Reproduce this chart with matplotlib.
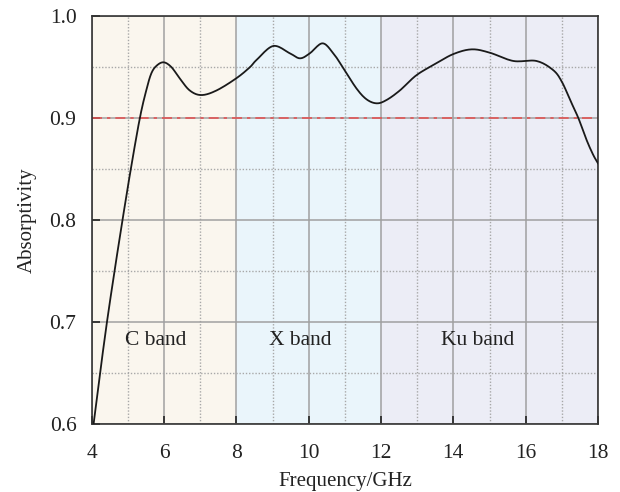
import matplotlib
matplotlib.use("Agg")
import matplotlib.pyplot as plt
import numpy as np
from matplotlib.ticker import MultipleLocator

plt.rcParams['font.family'] = ['Liberation Serif', 'DejaVu Serif']

# absorptivity curve
freq = [4.05, 4.23, 4.42, 4.63, 4.85, 5.08, 5.33, 5.51, 5.65, 5.80, 5.99, 6.20,
        6.43, 6.71, 7.03, 7.45, 8.00, 8.37, 8.56, 9.02, 9.48, 9.76, 10.03, 10.38,
        10.68, 10.96, 11.32, 11.60, 11.88, 12.15, 12.52, 12.98, 13.50, 14.00,
        14.51, 15.01, 15.66, 16.30, 16.76, 17.00, 17.23, 17.46, 17.69, 17.87, 18.00]
absorb = [0.600, 0.650, 0.700, 0.750, 0.800, 0.850, 0.900, 0.9275, 0.944, 0.9515,
          0.9546, 0.950, 0.939, 0.927, 0.9225, 0.927, 0.939, 0.9497, 0.957, 0.9706,
          0.9634, 0.9585, 0.9634, 0.9732, 0.9634, 0.9487, 0.929, 0.9183, 0.9144,
          0.9176, 0.927, 0.942, 0.953, 0.9627, 0.9673, 0.964, 0.9559, 0.9559,
          0.947, 0.9356, 0.9176, 0.8997, 0.878, 0.8637, 0.8556]

bands = ["C band", "X band", "Ku band"]
band_edges = [(4, 8), (8, 12), (12, 18)]
band_colors = ["#faf6ee", "#eaf5fb", "#ecedf6"]
band_label_x = [5.76, 9.76, 14.68]
threshold = 0.9


def smooth(xs, ys, n=12):
    # catmull-rom pass through the read points, only for drawing
    x = np.asarray(xs, float)
    y = np.asarray(ys, float)
    px = np.concatenate([[2 * x[0] - x[1]], x, [2 * x[-1] - x[-2]]])
    py = np.concatenate([[2 * y[0] - y[1]], y, [2 * y[-1] - y[-2]]])
    t = np.linspace(0, 1, n, endpoint=False)
    outx, outy = [], []
    for i in range(1, len(px) - 2):
        for arr, out in ((px, outx), (py, outy)):
            p0, p1, p2, p3 = arr[i - 1], arr[i], arr[i + 1], arr[i + 2]
            out.extend(0.5 * (2 * p1 + (-p0 + p2) * t
                              + (2 * p0 - 5 * p1 + 4 * p2 - p3) * t ** 2
                              + (-p0 + 3 * p1 - 3 * p2 + p3) * t ** 3))
    outx.append(x[-1])
    outy.append(y[-1])
    return outx, outy


fig = plt.figure(figsize=(6.2, 4.92), dpi=100)
ax = fig.add_axes([0.148, 0.138, 0.8165, 0.8295])

for (a, b), col in zip(band_edges, band_colors):
    ax.axvspan(a, b, color=col, zorder=0, lw=0)

ax.set_xlim(4, 18)
ax.set_ylim(0.6, 1.0)
ax.xaxis.set_major_locator(MultipleLocator(2))
ax.xaxis.set_minor_locator(MultipleLocator(1))
ax.yaxis.set_major_locator(MultipleLocator(0.1))
ax.yaxis.set_minor_locator(MultipleLocator(0.05))
ax.set_yticks([0.6, 0.7, 0.8, 0.9, 1.0])
ax.set_yticklabels(["0.6", "0.7", "0.8", "0.9", "1.0"])

ax.grid(which="major", color="#a0a0a0", lw=1.1, ls="-", zorder=1)
ax.grid(which="minor", color="#a8a8a8", lw=1.0, ls=(0, (1, 1.3)), zorder=1)
ax.set_axisbelow(True)

ax.axhline(threshold, color="#e05555", lw=1.2, ls=(0, (6, 3, 2, 3)), zorder=2)
sx, sy = smooth(freq, absorb)
ax.plot(sx, sy, color="#1a1a1a", lw=1.3, zorder=3)

for name, xc in zip(bands, band_label_x):
    ax.text(xc, 0.682, name, ha="center", va="center", fontsize=15.5, color="#222222")

ax.tick_params(which="major", direction="in", length=6, width=1.2, labelsize=15.5,
               top=False, right=False, pad=11, colors="#222222")
ax.tick_params(axis="x", which="major", pad=14)
ax.tick_params(which="minor", length=0)
for s in ax.spines.values():
    s.set_color("#333333")
    s.set_linewidth(1.2)

ax.set_xlabel("Frequency/GHz", fontsize=15, color="#222222", labelpad=7)
ax.set_ylabel("Absorptivity", fontsize=15, color="#222222", labelpad=9)

fig.savefig("out.png", dpi=100)
